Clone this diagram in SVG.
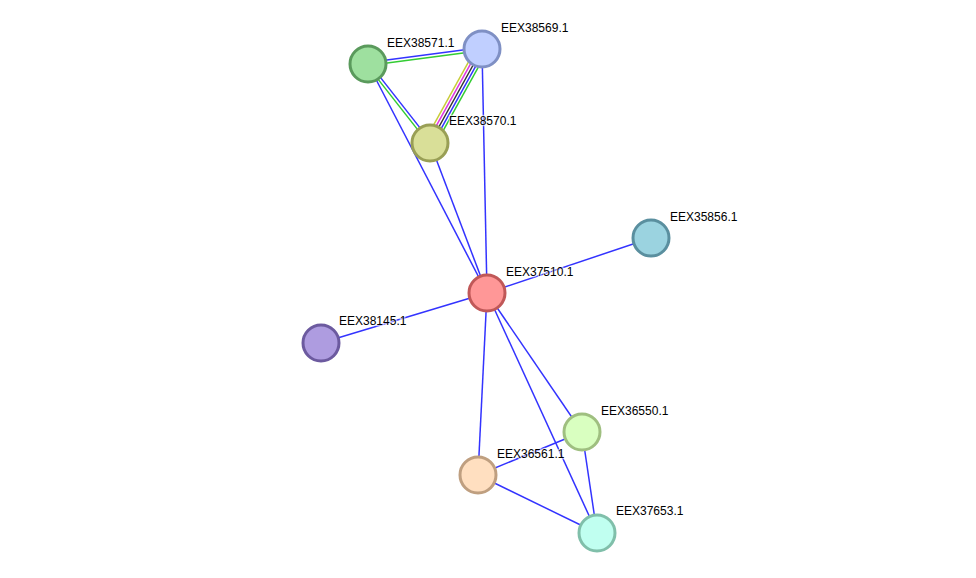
<svg xmlns="http://www.w3.org/2000/svg" width="976" height="578" viewBox="0 0 976 578">
<style>
  .e { stroke-width: 1.5; fill: none; }
  .b { stroke: #3333ff; }
  .g { stroke: #33cc33; }
  .y { stroke: #c8cc3a; }
  .m { stroke: #e033e0; }
  .k { stroke: #333333; }
  .n { stroke-width: 3; }
  .lbl { font-family: "Liberation Sans", Arial, sans-serif; font-size: 12px; fill: #000; stroke: #fff; stroke-width: 2.5; stroke-opacity: 0.6; paint-order: stroke; }
</style>
<rect width="976" height="578" fill="#fff"/>
<g id="edges">
  <line class="e b" x1="367.8" y1="62.5" x2="481.8" y2="47.5"/>
  <line class="e g" x1="368.2" y1="65.5" x2="482.2" y2="50.5"/>
  <line class="e b" x1="369.2" y1="63.1" x2="431.2" y2="142.1"/>
  <line class="e g" x1="366.8" y1="64.9" x2="428.8" y2="143.9"/>
  <line class="e y" x1="477.1" y1="46.29" x2="425.1" y2="140.29"/>
  <line class="e m" x1="479.55" y1="47.65" x2="427.55" y2="141.65"/>
  <line class="e k" x1="482" y1="49" x2="430" y2="143"/>
  <line class="e b" x1="484.45" y1="50.36" x2="432.45" y2="144.36"/>
  <line class="e g" x1="486.9" y1="51.71" x2="434.9" y2="145.71"/>
  <line class="e b" x1="368" y1="64" x2="487" y2="293"/>
  <line class="e b" x1="482" y1="49" x2="487" y2="293"/>
  <line class="e b" x1="430" y1="143" x2="487" y2="293"/>
  <line class="e b" x1="487" y1="293" x2="651" y2="238"/>
  <line class="e b" x1="487" y1="293" x2="321" y2="343"/>
  <line class="e b" x1="487" y1="293" x2="478" y2="475"/>
  <line class="e b" x1="487" y1="293" x2="582" y2="432"/>
  <line class="e b" x1="487" y1="293" x2="597" y2="533"/>
  <line class="e b" x1="582" y1="432" x2="478" y2="475"/>
  <line class="e b" x1="582" y1="432" x2="597" y2="533"/>
  <line class="e b" x1="478" y1="475" x2="597" y2="533"/>
</g>
<g id="EEX38571.1">
  <circle class="n" cx="368" cy="64" r="18" fill="#9ee09f" stroke="#5a9a5c"/>
  <text class="lbl" x="387" y="47">EEX38571.1</text>
</g>
<g id="EEX38569.1">
  <circle class="n" cx="482" cy="49" r="18" fill="#c0cfff" stroke="#7f90c4"/>
  <text class="lbl" x="501" y="32">EEX38569.1</text>
</g>
<g id="EEX38570.1">
  <circle class="n" cx="430" cy="143" r="18" fill="#d9df98" stroke="#999f55"/>
  <text class="lbl" x="449" y="125">EEX38570.1</text>
</g>
<g id="EEX37510.1">
  <circle class="n" cx="487" cy="293" r="18" fill="#ff9797" stroke="#c05858"/>
  <text class="lbl" x="506" y="276">EEX37510.1</text>
</g>
<g id="EEX35856.1">
  <circle class="n" cx="651" cy="238" r="18" fill="#9bd3e0" stroke="#5a8f9f"/>
  <text class="lbl" x="670" y="221">EEX35856.1</text>
</g>
<g id="EEX38145.1">
  <circle class="n" cx="321" cy="343" r="18" fill="#ae9ce0" stroke="#6c5a9f"/>
  <text class="lbl" x="339" y="325">EEX38145.1</text>
</g>
<g id="EEX36550.1">
  <circle class="n" cx="582" cy="432" r="18" fill="#d9ffc0" stroke="#9fbf80"/>
  <text class="lbl" x="601" y="415">EEX36550.1</text>
</g>
<g id="EEX36561.1">
  <circle class="n" cx="478" cy="475" r="18" fill="#ffdfc0" stroke="#bf9f80"/>
  <text class="lbl" x="497" y="458">EEX36561.1</text>
</g>
<g id="EEX37653.1">
  <circle class="n" cx="597" cy="533" r="18" fill="#c0fff0" stroke="#80bfaa"/>
  <text class="lbl" x="616" y="515">EEX37653.1</text>
</g>
</svg>
